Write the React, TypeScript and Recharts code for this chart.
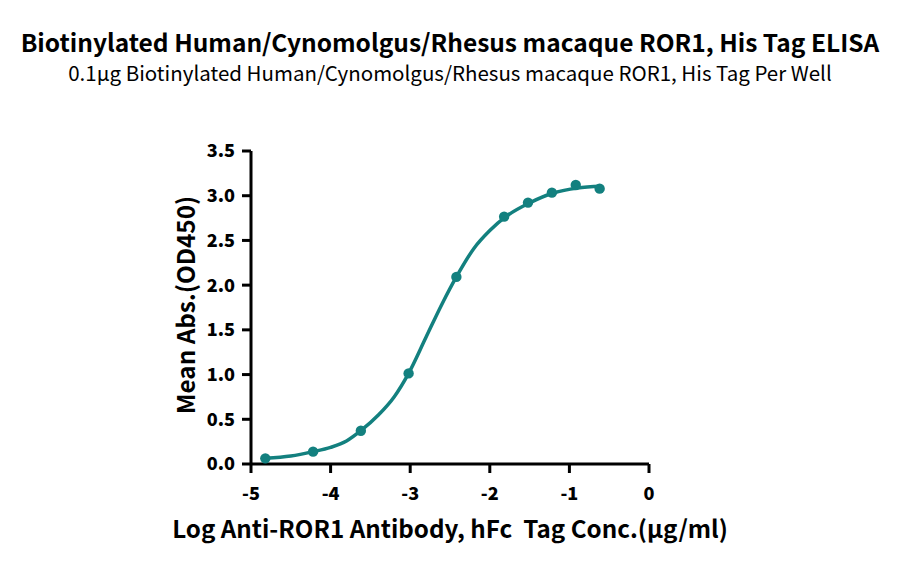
import React from 'react';
import { ComposedChart, Line, Scatter, XAxis, YAxis } from 'recharts';

// measured points (log conc, OD450)
const logConc = [-4.82, -4.22, -3.62, -3.02, -2.42, -1.82, -1.52, -1.22, -0.92, -0.62];
const meanAbs = [0.063, 0.138, 0.372, 1.013, 2.092, 2.766, 2.923, 3.034, 3.12, 3.079];

// fitted curve
const fitX = [-4.82, -4.5, -4.22, -4.0, -3.8, -3.62, -3.4, -3.2, -3.02, -2.8, -2.6, -2.42, -2.2, -2.0, -1.8, -1.5, -1.2, -0.9, -0.6];
const fitY = [0.063, 0.089, 0.138, 0.186, 0.257, 0.372, 0.547, 0.752, 1.013, 1.42, 1.79, 2.092, 2.41, 2.61, 2.766, 2.92, 3.03, 3.085, 3.105];

const xTicks = [-5, -4, -3, -2, -1, 0];
const yTicks = [0, 0.5, 1, 1.5, 2, 2.5, 3, 3.5];

const title = 'Biotinylated Human/Cynomolgus/Rhesus macaque ROR1, His Tag ELISA';
const subtitle = '0.1μg Biotinylated Human/Cynomolgus/Rhesus macaque ROR1, His Tag Per Well';
const xLabel = 'Log Anti-ROR1 Antibody, hFc  Tag Conc.(μg/ml)';
const yLabel = 'Mean Abs.(OD450)';

const TEAL = '#13807f';
const FONT = '"Noto Sans CJK SC", "Noto Sans", sans-serif';

const points = logConc.map((x, i) => ({ x, y: meanAbs[i] }));
const fit = fitX.map((x, i) => ({ x, y: fitY[i] }));

const App: React.FC = () => {
  return (
    <div style={{ position: 'fixed', left: 0, top: 0, width: 900, height: 569, background: '#fff', fontFamily: FONT }}>
      <div style={{ position: 'absolute', top: 26, width: 900, textAlign: 'center', fontSize: 24.5, fontWeight: 700, color: '#000', lineHeight: '32px' }}>
        {title}
      </div>
      <div style={{ position: 'absolute', top: 59, width: 900, textAlign: 'center', fontSize: 20.5, color: '#000', lineHeight: '26px' }}>
        {subtitle}
      </div>
      <ComposedChart
        width={900}
        height={569}
        margin={{ top: 151, right: 251, left: 191, bottom: 65 }}
        style={{ position: 'absolute', left: 0, top: 0 }}
      >
        <XAxis
          type="number"
          dataKey="x"
          domain={[-5, 0]}
          ticks={xTicks}
          height={40}
          axisLine={{ stroke: '#000', strokeWidth: 3 }}
          tickLine={{ stroke: '#000', strokeWidth: 3 }}
          tickSize={9}
          tick={{ fill: '#000', fontSize: 18, fontWeight: 900, fontFamily: FONT, dy: 12 }}
          tickFormatter={(v) => String(v)}
          allowDataOverflow
        />
        <YAxis
          type="number"
          dataKey="y"
          domain={[0, 3.5]}
          ticks={yTicks}
          width={60}
          axisLine={{ stroke: '#000', strokeWidth: 3 }}
          tickLine={{ stroke: '#000', strokeWidth: 3 }}
          tickSize={9}
          tick={{ fill: '#000', fontSize: 18, fontWeight: 900, fontFamily: FONT, dx: -5 }}
          tickFormatter={(v) => Number(v).toFixed(1)}
        />
        <Line
          data={fit}
          dataKey="y"
          type="monotone"
          stroke={TEAL}
          strokeWidth={3.5}
          dot={false}
          activeDot={false}
          isAnimationActive={false}
        />
        <Scatter
          data={points}
          dataKey="y"
          fill={TEAL}
          shape={(p: any) => <circle cx={p.cx} cy={p.cy} r={5.2} fill={TEAL} />}
          isAnimationActive={false}
        />
      </ComposedChart>
      <div style={{ position: 'absolute', top: 512, width: 900, textAlign: 'center', fontSize: 24.2, fontWeight: 700, color: '#000', lineHeight: '32px', whiteSpace: 'pre' }}>
        {xLabel}
      </div>
      <div
        style={{
          position: 'absolute',
          left: 185,
          top: 305,
          transform: 'translate(-50%, -50%) rotate(-90deg)',
          fontSize: 24.3,
          fontWeight: 700,
          color: '#000',
          whiteSpace: 'nowrap',
          lineHeight: '30px',
        }}
      >
        {yLabel}
      </div>
    </div>
  );
};

export default App;
